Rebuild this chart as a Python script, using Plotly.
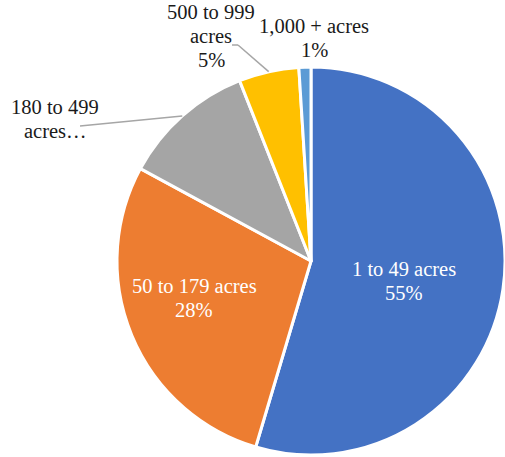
import math
import plotly.graph_objects as go

# ---- data ----
labels = ["1 to 49 acres", "50 to 179 acres", "180 to 499 acres", "500 to 999 acres", "1,000 + acres"]
values = [54.6, 28.3, 11.1, 5.0, 1.0]
colors = ["#4472C4", "#ED7D31", "#A5A5A5", "#FFC000", "#5B9BD5"]
label_text = [["1 to 49 acres", "55%"],
              ["50 to 179 acres", "28%"],
              ["180 to 499", "acres…"],
              ["500 to 999", "acres", "5%"],
              ["1,000 + acres", "1%"]]
label_color = ["white", "white", "#1a1a1a", "#1a1a1a", "#1a1a1a"]

FONT = "Times New Roman"
FS = 20.5
LINE = 24
W, H = 505, 457
CX, CY, R = 311, 261, 194  # pie center / radius in pixels

# label block positions (centre x, first-line centre y), pixels
label_pos = [(404, 269), (194, 286), (55, 107), (211, 12), (314, 26)]
line_start = {2: (80, 126), 3: (232, 45)}


def px(x, y):
    return x / W, 1 - y / H


fig = go.Figure(go.Pie(
    labels=labels,
    values=values,
    sort=False,
    direction="clockwise",
    rotation=0,
    marker=dict(colors=colors, line=dict(color="white", width=3)),
    textinfo="none",
    hoverinfo="label+percent",
    domain=dict(x=[(CX - R) / W, min(1.0, (CX + R) / W)],
                y=[(H - (CY + R)) / H, (H - (CY - R)) / H]),
    showlegend=False,
))

total = sum(values)
cum = 0
for i, v in enumerate(values):
    mid = (cum + v / 2) / total * 2 * math.pi
    cum += v
    tx, ty = label_pos[i]
    for k, line in enumerate(label_text[i]):
        ax, ay = px(tx, ty + k * LINE)
        fig.add_annotation(x=ax, y=ay, xref="paper", yref="paper", text=line,
                           showarrow=False, font=dict(family=FONT, size=FS, color=label_color[i]),
                           xanchor="center", yanchor="middle")
    if i in line_start:
        ex = CX + R * math.sin(mid)
        ey = CY - R * math.cos(mid)
        sx, sy = line_start[i]
        if i == 3:
            pts = [(sx, sy), (sx + 6, sy), (ex, ey)]
        else:
            pts = [(sx, sy), (ex, ey)]
        for (x0, y0), (x1, y1) in zip(pts[:-1], pts[1:]):
            p0 = px(x0, y0)
            p1 = px(x1, y1)
            fig.add_shape(type="line", xref="paper", yref="paper", x0=p0[0], y0=p0[1], x1=p1[0], y1=p1[1],
                          line=dict(color="#A6A6A6", width=1.5))

fig.update_layout(width=W, height=H, margin=dict(l=0, r=0, t=0, b=0),
                  paper_bgcolor="white", plot_bgcolor="white",
                  font=dict(family=FONT))

fig.write_html("out.html", config={"displayModeBar": False},
               post_script="document.body.style.margin='0';document.body.style.padding='0';")
